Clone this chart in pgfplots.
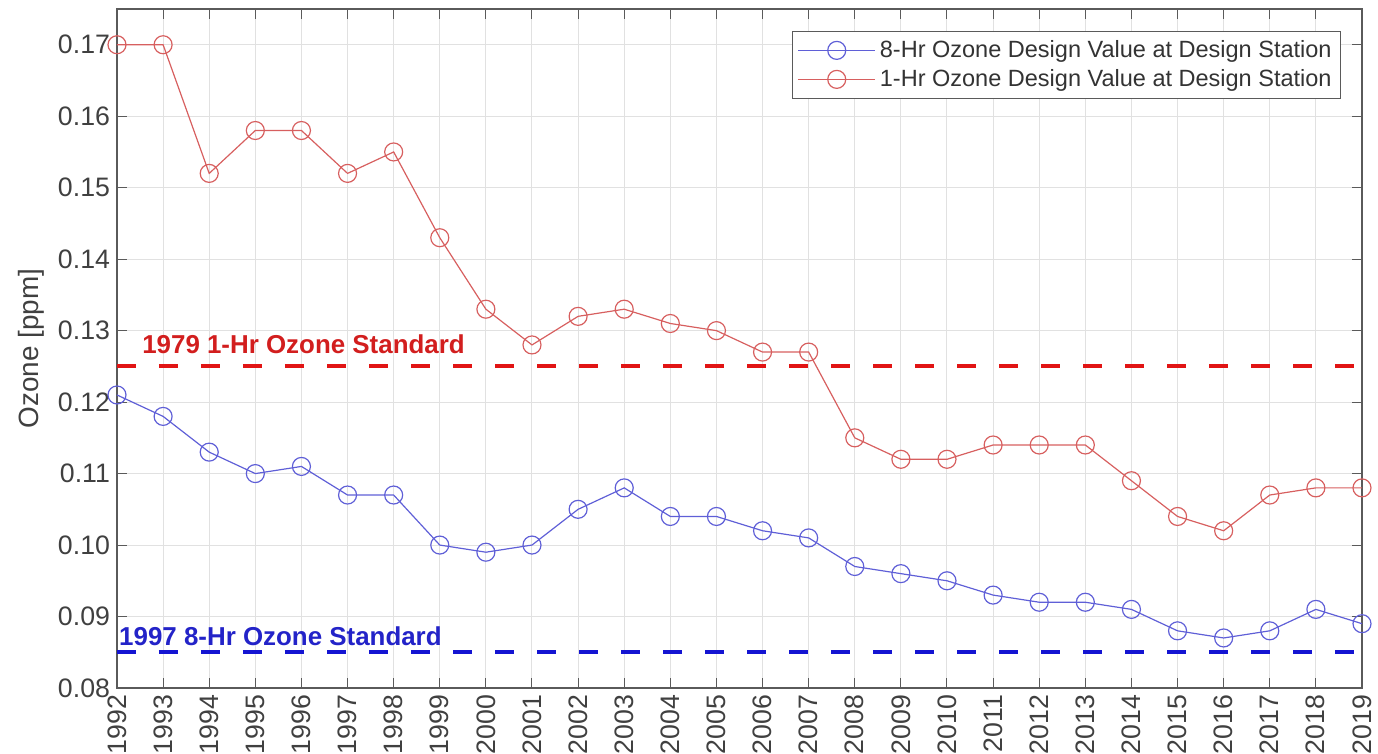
\documentclass[border=0pt]{standalone}
\usepackage{pgfplots}
\pgfplotsset{compat=1.18}
\usepackage{fontspec}
\setmainfont{Liberation Sans}
\definecolor{lred}{RGB}{215,95,95}
\definecolor{lblue}{RGB}{95,95,215}
\definecolor{sred}{RGB}{225,20,20}
\definecolor{sblue}{RGB}{20,20,210}
\definecolor{tred}{RGB}{210,30,30}
\definecolor{tblue}{RGB}{35,35,200}
\definecolor{gridc}{RGB}{225,225,225}
\definecolor{axc}{RGB}{90,90,90}
\begin{document}
\begin{tikzpicture}
\begin{axis}[
  scale only axis,
  width=622.5bp, height=339.5bp,
  xmin=1992, xmax=2019,
  ymin=0.08, ymax=0.175,
  xtick={1992,...,2019},
  ytick={0.08,0.09,...,0.17},
  yticklabels={0.08,0.09,0.10,0.11,0.12,0.13,0.14,0.15,0.16,0.17},
  xticklabel style={rotate=90, anchor=east, font=\fontsize{13.4}{13}\selectfont, text=black!75},
  yticklabel style={font=\fontsize{13.4}{13}\selectfont, text=black!75},
  /pgf/number format/assume math mode=true,
  /pgf/number format/1000 sep={},
  grid=major,
  major grid style={gridc, line width=0.5pt},
  axis line style={axc, line width=0.6pt},
  tick style={axc, line width=0.5pt},
  major tick length=5bp,
  tick align=inside,
  ylabel={Ozone [ppm]},
  ylabel style={font=\fontsize{14}{14}\selectfont, text=black!75},
  legend style={at={(1,1)}, anchor=north east, xshift=-10.5bp, yshift=-11bp, draw=axc, font=\fontsize{11.8}{13}\selectfont, text=black!80, row sep=0.5pt, inner sep=2.5pt},
  legend cell align=left,
  legend image code/.code={\draw[mark repeat=2,mark phase=2] plot coordinates {(0cm,0cm)(0.68cm,0cm)(1.36cm,0cm)};},
  clip=false,
]
\addplot[lblue, line width=0.6pt, mark=o, mark size=4.5bp, mark options={line width=0.6pt}] coordinates {
(1992,0.121)(1993,0.118)(1994,0.113)(1995,0.110)(1996,0.111)(1997,0.107)(1998,0.107)(1999,0.100)(2000,0.099)(2001,0.100)(2002,0.105)(2003,0.108)(2004,0.104)(2005,0.104)(2006,0.102)(2007,0.101)(2008,0.097)(2009,0.096)(2010,0.095)(2011,0.093)(2012,0.092)(2013,0.092)(2014,0.091)(2015,0.088)(2016,0.087)(2017,0.088)(2018,0.091)(2019,0.089)};
\addlegendentry{8-Hr Ozone Design Value at Design Station}
\addplot[lred, line width=0.6pt, mark=o, mark size=4.5bp, mark options={line width=0.6pt}] coordinates {
(1992,0.170)(1993,0.170)(1994,0.152)(1995,0.158)(1996,0.158)(1997,0.152)(1998,0.155)(1999,0.143)(2000,0.133)(2001,0.128)(2002,0.132)(2003,0.133)(2004,0.131)(2005,0.130)(2006,0.127)(2007,0.127)(2008,0.115)(2009,0.112)(2010,0.112)(2011,0.114)(2012,0.114)(2013,0.114)(2014,0.109)(2015,0.104)(2016,0.102)(2017,0.107)(2018,0.108)(2019,0.108)};
\addlegendentry{1-Hr Ozone Design Value at Design Station}
\addplot[sred, line width=2bp, dash pattern=on 9.5bp off 11.5bp, forget plot] coordinates {(1992,0.125)(2019,0.125)};
\addplot[sblue, line width=2bp, dash pattern=on 9.5bp off 11.5bp, forget plot] coordinates {(1992,0.085)(2019,0.085)};
\node[anchor=base west, text=tred, font=\bfseries\fontsize{13}{13}\selectfont, inner sep=0pt] at (axis cs:1992.54,0.1268) {1979 1-Hr Ozone Standard};
\node[anchor=base west, text=tblue, font=\bfseries\fontsize{13}{13}\selectfont, inner sep=0pt] at (axis cs:1992.04,0.0859) {1997 8-Hr Ozone Standard};
\end{axis}
\pgfresetboundingbox
\path ([shift={(-58.5bp,-33bp)}]current axis.south west) rectangle ([shift={(8bp,4.5bp)}]current axis.north east);
\end{tikzpicture}
\end{document}
